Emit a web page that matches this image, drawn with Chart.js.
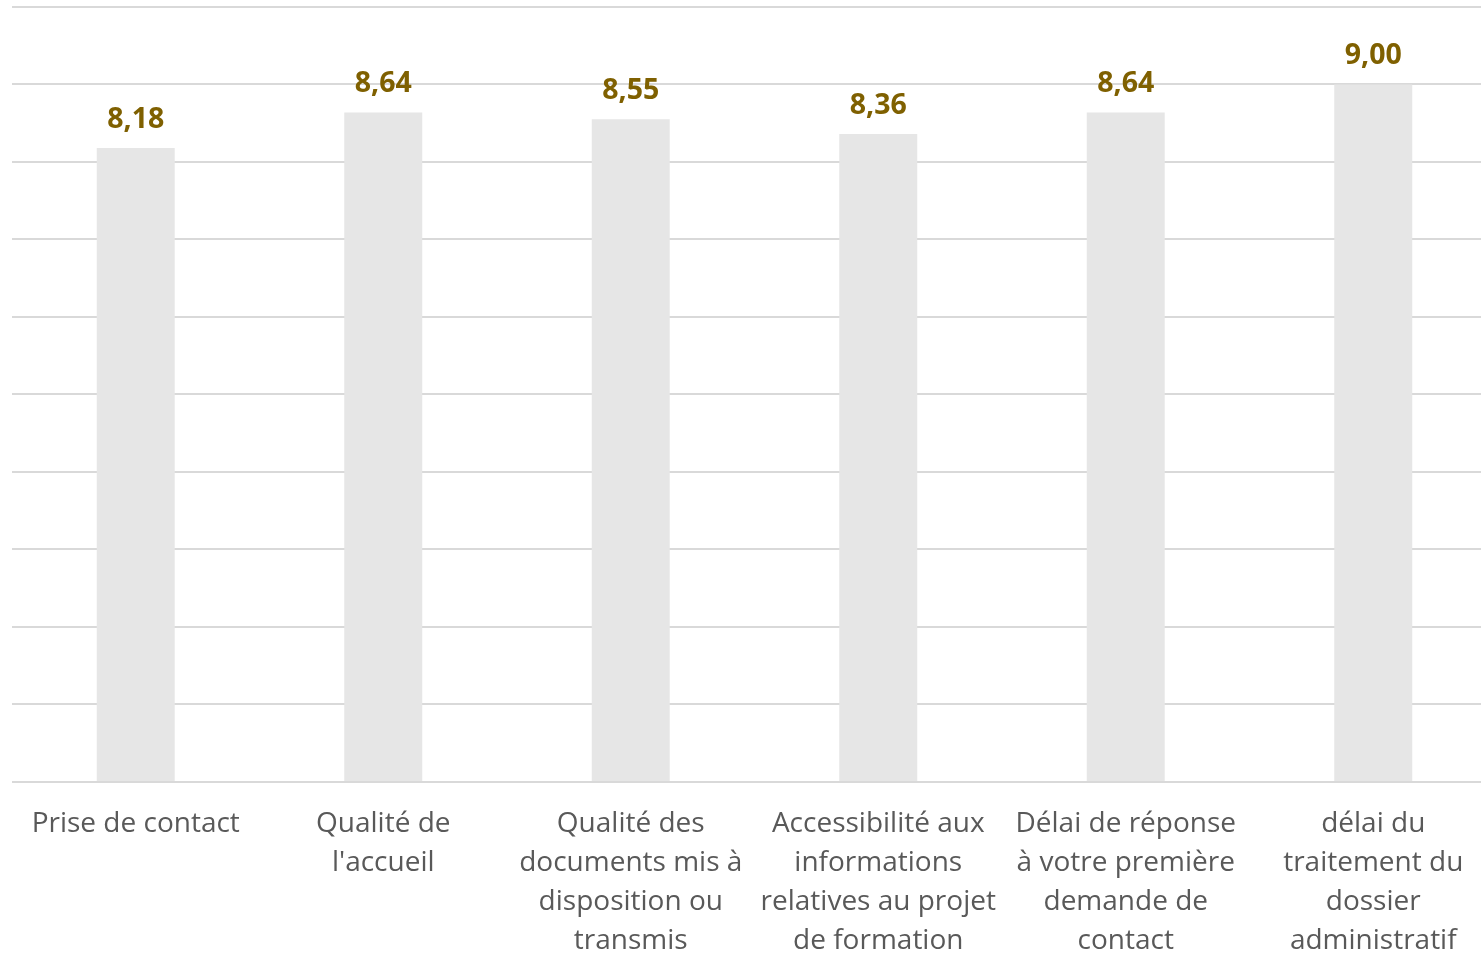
<!DOCTYPE html>
<html>
<head>
<meta charset="utf-8">
<script src="https://cdn.jsdelivr.net/npm/chart.js@4/dist/chart.umd.min.js"></script>
<style>
  html, body { margin: 0; padding: 0; background: #fff; overflow: hidden; }
  #wrap { width: 1500px; height: 976px; }
</style>
</head>
<body>
<div id="wrap"><canvas id="chart"></canvas></div>
<script>
// data
const categories = [
    ["Prise de contact"],
    ["Qualité de", "l'accueil"],
    ["Qualité des", "documents mis à", "disposition ou", "transmis"],
    ["Accessibilité aux", "informations", "relatives au projet", "de formation"],
    ["Délai de réponse", "à votre première", "demande de", "contact"],
    ["délai du", "traitement du", "dossier", "administratif"]
];
const scores = [8.18, 8.64, 8.55, 8.36, 8.64, 9.00];
const yMin = 0;
const yMax = 10;
const yStep = 1;

// value labels above each bar
const valueLabels = {
    id: "valueLabels",
    afterDatasetsDraw(chart) {
        const ctx = chart.ctx;
        const meta = chart.getDatasetMeta(0);
        ctx.save();
        ctx.font = "bold 28.5px 'Open Sans', sans-serif";
        ctx.fillStyle = "#7F6000";
        ctx.textAlign = "center";
        ctx.textBaseline = "bottom";
        meta.data.forEach((bar, i) => {
            const txt = scores[i].toFixed(2).replace(".", ",");
            ctx.fillText(txt, bar.x, bar.y - 14);
        });
        ctx.restore();
    }
};

const ctx = document.getElementById("chart").getContext("2d");
new Chart(ctx, {
    type: "bar",
    data: {
        labels: categories,
        datasets: [{
            data: scores,
            backgroundColor: "#E6E6E6",
            borderWidth: 0,
            barPercentage: 0.315,
            categoryPercentage: 1
        }]
    },
    options: {
        responsive: true,
        maintainAspectRatio: false,
        animation: false,
        layout: { padding: { left: 12, right: 3, top: 7, bottom: 0 } },
        plugins: {
            legend: { display: false },
            tooltip: { enabled: false }
        },
        scales: {
            x: {
                grid: { display: false },
                border: { display: false },
                ticks: {
                    color: "#595959",
                    font: { family: "'Open Sans', sans-serif", size: 28, lineHeight: 1.393 },
                    padding: 15,
                    maxRotation: 0,
                    autoSkip: false
                }
            },
            y: {
                min: yMin,
                max: yMax,
                ticks: { display: false, stepSize: yStep },
                grid: { color: "#D9D9D9", lineWidth: 2, drawTicks: false },
                border: { display: false }
            }
        }
    },
    plugins: [valueLabels]
});
</script>
</body>
</html>
